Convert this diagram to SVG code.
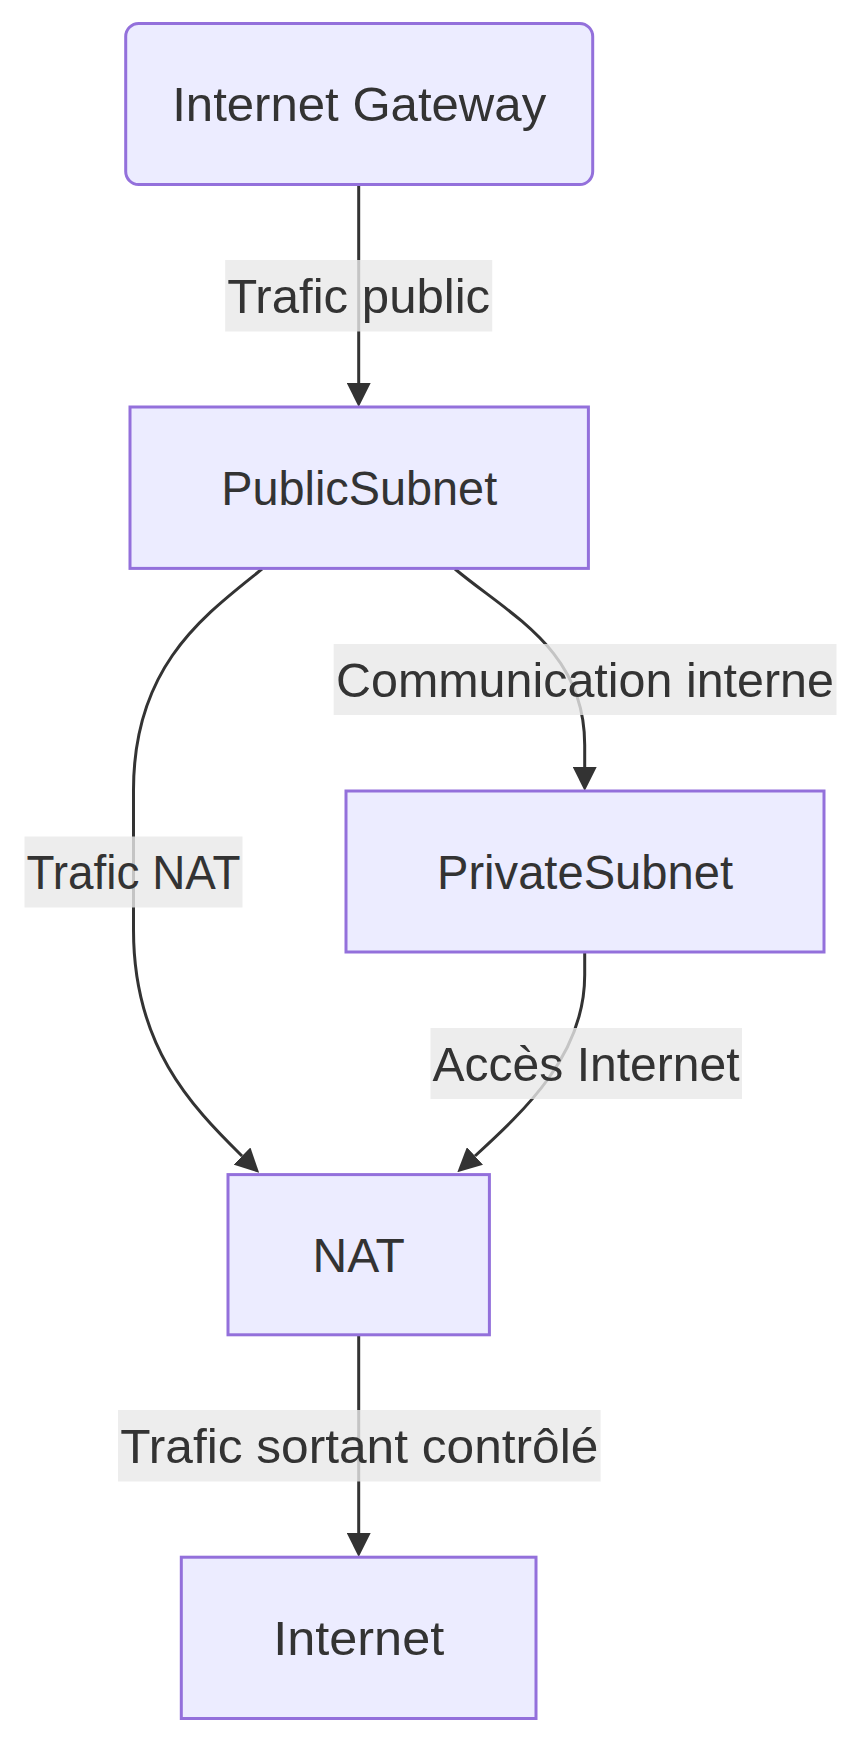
<svg xmlns="http://www.w3.org/2000/svg" width="862" height="1745" viewBox="0 0 862 1745">
<style>
.node rect{fill:#ECECFF;stroke:#9370DB;stroke-width:3}
.node text{font-family:"Liberation Sans",Arial,sans-serif;font-size:48px;fill:#333;text-anchor:middle}
.edge{fill:none;stroke:#333;stroke-width:3}
.lbl rect{fill:#e8e8e8;fill-opacity:0.8}
.lbl text{font-family:"Liberation Sans",Arial,sans-serif;font-size:48px;fill:#333;text-anchor:middle}
</style>
<defs>
<marker id="arrow" viewBox="0 0 10 10" refX="0" refY="5" markerUnits="userSpaceOnUse" markerWidth="24" markerHeight="24" orient="auto">
<path d="M0,0 L10,5 L0,10 z" fill="#333"/>
</marker>
</defs>
<rect width="862" height="1745" fill="#fff"/>
<g id="connectors">
<path class="edge" d="M358.7,185 L358.7,383" marker-end="url(#arrow)"/>
<path class="edge" d="M262,569 C205,615 133.5,665 133.5,790 L133.5,930 C133.5,1045 190,1105 242,1156" marker-end="url(#arrow)"/>
<path class="edge" d="M455,569 C510,615 584.7,650 584.7,745 L584.7,767" marker-end="url(#arrow)"/>
<path class="edge" d="M584.7,952 L584.7,975 C584.7,1055 525,1110 475,1156" marker-end="url(#arrow)"/>
<path class="edge" d="M358.7,1335 L358.7,1533" marker-end="url(#arrow)"/>
<g class="lbl">
<rect x="225.2" y="260" width="267" height="71.5"/>
<text x="358.7" y="313" textLength="263" lengthAdjust="spacingAndGlyphs">Trafic public</text>
<rect x="333.7" y="644" width="502.8" height="71"/>
<text x="585" y="697" textLength="498" lengthAdjust="spacingAndGlyphs">Communication interne</text>
<rect x="24.5" y="836.5" width="218" height="71"/>
<text x="133.5" y="889" textLength="214" lengthAdjust="spacingAndGlyphs">Trafic NAT</text>
<rect x="430.5" y="1028" width="311.5" height="71"/>
<text x="586" y="1081" textLength="307" lengthAdjust="spacingAndGlyphs">Accès Internet</text>
<rect x="118" y="1410" width="482.6" height="71.5"/>
<text x="359.3" y="1463" textLength="478" lengthAdjust="spacingAndGlyphs">Trafic sortant contrôlé</text>
</g>
</g>
<g id="node-igw" class="node">
<rect x="125.7" y="23.4" width="467" height="161.2" rx="13" ry="13"/>
<text x="359.2" y="121" textLength="374" lengthAdjust="spacingAndGlyphs">Internet Gateway</text>
</g>
<g id="node-public" class="node">
<rect x="130" y="407" width="458.4" height="161.4"/>
<text x="359.2" y="505" textLength="276" lengthAdjust="spacingAndGlyphs">PublicSubnet</text>
</g>
<g id="node-private" class="node">
<rect x="346" y="791" width="478" height="161"/>
<text x="585" y="889" textLength="296" lengthAdjust="spacingAndGlyphs">PrivateSubnet</text>
</g>
<g id="node-nat" class="node">
<rect x="228" y="1174.6" width="261.4" height="160.2"/>
<text x="358.7" y="1272">NAT</text>
</g>
<g id="node-internet" class="node">
<rect x="181.3" y="1557.2" width="354.7" height="161.3"/>
<text x="358.7" y="1655" textLength="171" lengthAdjust="spacingAndGlyphs">Internet</text>
</g>
</svg>
